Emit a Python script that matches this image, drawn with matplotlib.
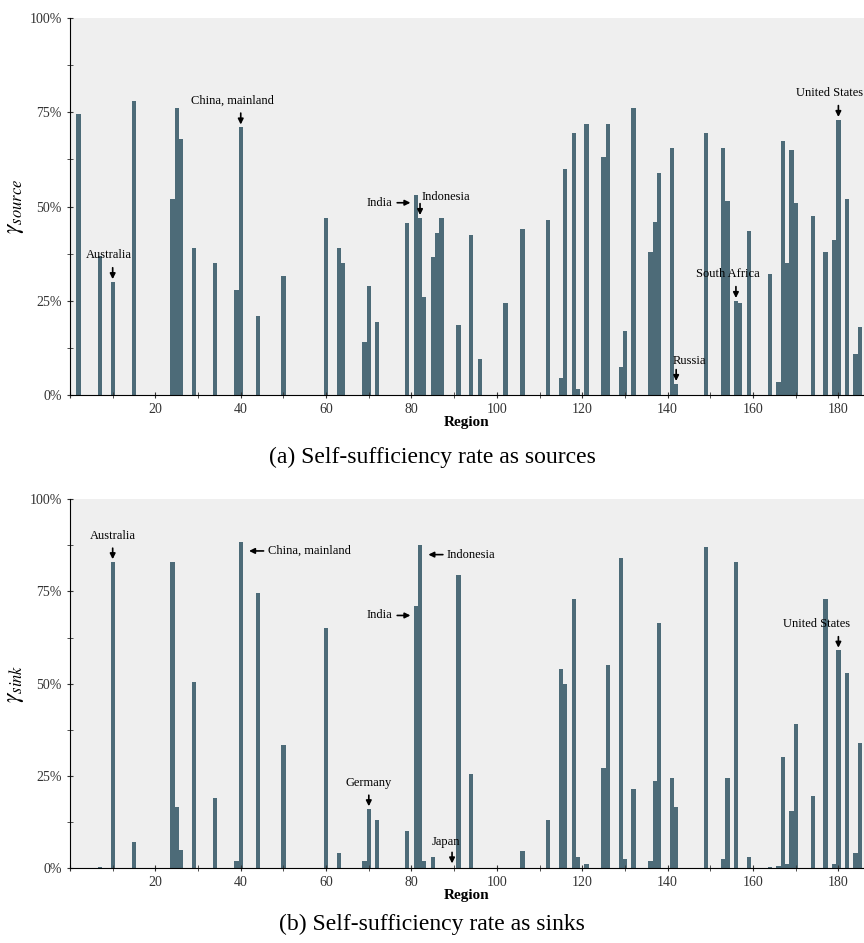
import matplotlib
matplotlib.use("Agg")
import matplotlib.pyplot as plt
from matplotlib.ticker import MultipleLocator, FuncFormatter

plt.rcParams['font.family'] = ['Liberation Serif', 'DejaVu Serif']
plt.rcParams['mathtext.fontset'] = 'stix'

src_regions = [2,7,10,15,24,25,26,29,34,39,40,44,50,60,63,64,69,70,72,79,81,82,83,85,86,87,91,94,96,102,106,112,115,116,118,119,121,125,126,129,130,132,136,137,138,141,142,149,153,154,156,157,159,164,166,167,168,169,170,174,177,179,180,182,184,185]
src_values = [74.5,37,30,78,52,76,68,39,35,28,71,21,31.5,47,39,35,14,29,19.5,45.5,53,47,26,36.5,43,47,18.5,42.5,9.5,24.5,44,46.5,4.5,60,69.5,1.5,72,63,72,7.5,17,76,38,46,59,65.5,3,69.5,65.5,51.5,25,24.5,43.5,32,3.5,67.5,35,65,51,47.5,38,41,73,52,11,18]

sink_regions = [7,10,15,24,25,26,29,34,39,40,44,50,60,63,69,70,72,79,81,82,83,85,91,94,106,112,115,116,118,119,121,125,126,129,130,132,136,137,138,141,142,149,153,154,156,159,164,166,167,168,169,170,174,177,179,180,182,184,185]
sink_values = [0.3,83,7,83,16.5,5,50.5,19,2,88.5,74.5,33.5,65,4,2,16,13,10,71,87.5,2,3,79.5,25.5,4.5,13,54,50,73,3,1,27,55,84,2.5,21.5,2,23.5,66.5,24.5,16.5,87,2.5,24.5,83,3,0.4,0.5,30,1,15.5,39,19.5,73,1,59,53,4,34]

src_notes = [("Australia",10,30,9,35.5,'down'),("China, mainland",40,71,38,76.5,'down'),
             ("India",81,51,74,51,'right'),("Indonesia",82,47,88,51,'down'),
             ("Russia",142,3,145,7.5,'down'),("South Africa",156,25,154,30.5,'down'),
             ("United States",180,73,178,78.5,'down')]
sink_notes = [("Australia",10,83,10,88.5,'down'),("China, mainland",41,86,52,86,'left'),
             ("India",81,68.5,73,68.5,'right'),("Indonesia",83,85,94,85,'left'),
             ("Germany",70,16,70,21.5,'down'),("Japan",89.5,0.5,88,5.5,'down'),
             ("United States",180,59,175,64.5,'down')]

color = '#4d6b78'
fig = plt.figure(figsize=(8.64, 9.43), dpi=100)

def panel(rect, regions, values, ylab, notes, caption, cap_y):
    ax = fig.add_axes(rect)
    ax.set_facecolor('#efefef')
    ax.bar(regions, values, width=1.0, color=color, linewidth=0)
    ax.set_xlim(0, 186)
    ax.set_ylim(0, 100)
    ax.yaxis.set_major_locator(MultipleLocator(25))
    ax.yaxis.set_minor_locator(MultipleLocator(12.5))
    ax.yaxis.set_major_formatter(FuncFormatter(lambda v, p: f"{int(v)}%"))
    ax.xaxis.set_major_locator(MultipleLocator(20))
    ax.xaxis.set_minor_locator(MultipleLocator(10))
    ax.xaxis.set_major_formatter(FuncFormatter(lambda v, p: "" if v == 0 else f"{int(v)}"))
    for s in ['top', 'right']:
        ax.spines[s].set_visible(False)
    ax.tick_params(axis='both', which='both', direction='inout', labelsize=10, length=5, colors='#333333')
    ax.tick_params(axis='x', pad=3)
    ax.set_xlabel('Region', fontsize=11, fontweight='bold', labelpad=0)
    ax.set_ylabel(ylab, fontsize=17, labelpad=2)
    for txt, x, y, tx, ty, d in notes:
        if d == 'down':
            ax.annotate('', xy=(x, y), xytext=(x, y + 4.5),
                        arrowprops=dict(arrowstyle='-|>', color='black', lw=1.2, mutation_scale=8))
            ax.text(tx, ty, txt, ha='center', va='bottom', fontsize=9)
        elif d == 'right':
            ax.annotate('', xy=(x - 0.6, y), xytext=(x - 5, y),
                        arrowprops=dict(arrowstyle='-|>', color='black', lw=1.2, mutation_scale=8))
            ax.text(x - 5.5, y, txt, ha='right', va='center', fontsize=9)
        else:
            ax.annotate('', xy=(x + 0.3, y), xytext=(x + 5, y),
                        arrowprops=dict(arrowstyle='-|>', color='black', lw=1.2, mutation_scale=8))
            ax.text(x + 5.3, y, txt, ha='left', va='center', fontsize=9)
    fig.text(0.5, cap_y, caption, ha='center', va='center', fontsize=17)
    return ax

panel([0.081, 0.581, 0.919, 0.400], src_regions, src_values, r'$\gamma_{source}$', src_notes,
      '(a) Self-sufficiency rate as sources', 1 - 457/943)
panel([0.081, 0.0795, 0.919, 0.391], sink_regions, sink_values, r'$\gamma_{sink}$', sink_notes,
      '(b) Self-sufficiency rate as sinks', 1 - 924/943)

fig.savefig('out.png', dpi=100)
